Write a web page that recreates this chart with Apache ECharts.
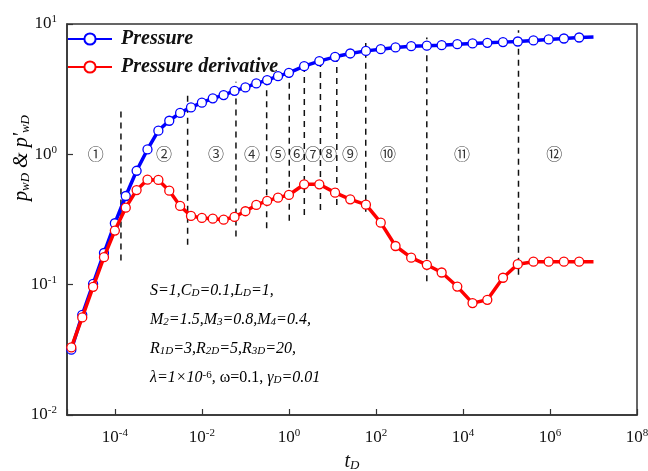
<!DOCTYPE html>
<html>
<head>
<meta charset="utf-8">
<script src="https://cdn.jsdelivr.net/npm/echarts@6/dist/echarts.min.js"></script>
<style>
html, body { margin: 0; padding: 0; background: #fff; }
#chart { width: 648px; height: 471px; }
</style>
</head>
<body>
<div id="chart"></div>
<script>
// dimensionless time of each computed point
const tD = [1e-5, 1.78e-5, 3.16e-5, 5.62e-5, 1e-4, 1.78e-4, 3.16e-4, 5.62e-4, 1e-3, 1.78e-3,
  3.16e-3, 5.62e-3, 0.01, 0.0178, 0.0316, 0.0562, 0.1, 0.178, 0.316, 0.562, 1,
  2.24, 5.0, 11.5, 25.7, 58.9, 129, 282, 646, 1480, 3240, 7410, 16600, 36300, 83200,
  182000, 417000, 933000, 2090000, 4680000, 1e7];
const pressure = [0.0317, 0.0587, 0.1014, 0.175, 0.296, 0.479, 0.748, 1.09, 1.52, 1.81,
  2.08, 2.29, 2.49, 2.69, 2.85, 3.07, 3.26, 3.50, 3.71, 3.98, 4.22,
  4.75, 5.19, 5.60, 5.94, 6.22, 6.41, 6.61, 6.76, 6.82, 6.88, 7.00, 7.09, 7.17, 7.26,
  7.34, 7.48, 7.61, 7.74, 7.88, 7.95];
const derivative = [0.033, 0.0561, 0.0962, 0.1625, 0.26, 0.39, 0.532, 0.639, 0.636, 0.526,
  0.402, 0.337, 0.325, 0.321, 0.315, 0.331, 0.366, 0.409, 0.439, 0.465, 0.488,
  0.589, 0.589, 0.508, 0.452, 0.411, 0.299, 0.198, 0.161, 0.142, 0.124, 0.0967, 0.0722, 0.0765, 0.113,
  0.1436, 0.150, 0.150, 0.150, 0.150, 0.150];

// flow regime boundaries (dashed lines)
const dashT = [1.38e-4, 4.7e-3, 0.0607, 0.308, 1.02, 2.26, 5.3, 12.6, 58.3, 1476, 1.89e5];
const dashLow = [0.153, 0.202, 0.234, 0.271, 0.31, 0.343, 0.374, 0.409, 0.363, 0.106, 0.119];
const dashHigh = [2.32, 3.07, 3.60, 4.12, 4.50, 5.13, 5.60, 5.94, 7.16, 7.88, 8.96];

// regime numbers
const regionT = [3.66e-5, 1.34e-3, 0.021, 0.142, 0.561, 1.53, 3.58, 8.36, 25.4, 190, 9550, 1.26e6];
const regionLabels = ['①', '②', '③', '④', '⑤', '⑥', '⑦', '⑧', '⑨', '⑩', '⑪', '⑫'];

const paramLines = [
  '{i|S=1,C}{sub|D}{i|=0.1,L}{sub|D}{i|=1,}',
  '{i|M}{sub|2}{i|=1.5,M}{sub|3}{i|=0.8,M}{sub|4}{i|=0.4,}',
  '{i|R}{sub|1D}{i|=3,R}{sub|2D}{i|=5,R}{sub|3D}{i|=20,}',
  '{i|λ=1×10}{sup|-6}{i|, }{n|ω=0.1, }{i|γ}{sub|D}{i|=0.01}'
];

const serif = 'Liberation Serif';
var chart = echarts.init(document.getElementById('chart'));

function powLabel(v) {
  const e = Math.log10(v);
  const r = Math.round(e);
  if (Math.abs(e - r) > 0.01) return '';
  return '{b|10}{sup|' + r + '}';
}
const tickRich = {
  b: { fontFamily: serif, fontSize: 17, lineHeight: 20, color: '#111' },
  sup: { fontFamily: serif, fontSize: 11, lineHeight: 10, verticalAlign: 'top', color: '#111' }
};

const pointSymbol = {
  symbol: 'circle',
  symbolSize: 9
};

function curveData(vals) {
  return tD.map((t, i) => i === tD.length - 1 ? { value: [t, vals[i]], symbol: 'none' } : [t, vals[i]]);
}

const dashSeries = dashT.map((t, i) => ({
  type: 'line',
  data: [[t, dashLow[i]], [t, dashHigh[i]]],
  symbol: 'none',
  silent: true,
  z: 1,
  lineStyle: { color: '#111', width: 1.5, type: [6, 5] }
}));

const richText = {
  i: { fontFamily: serif, fontStyle: 'italic', fontSize: 16, lineHeight: 16, color: '#222' },
  n: { fontFamily: serif, fontSize: 16, lineHeight: 16, color: '#222' },
  sub: { fontFamily: serif, fontStyle: 'italic', fontSize: 11, lineHeight: 8, verticalAlign: 'bottom', color: '#222' },
  sup: { fontFamily: serif, fontSize: 11, lineHeight: 8, verticalAlign: 'top', color: '#222' }
};

const option = {
  animation: false,
  grid: {
    left: 67, right: 11, top: 24, bottom: 56,
    outerBoundsMode: 'none',
    show: true, borderColor: '#333', borderWidth: 1.5
  },
  legend: {
    data: ['Pressure', 'Pressure derivative'],
    orient: 'vertical',
    left: 67,
    top: 29,
    padding: 0,
    itemWidth: 44,
    itemHeight: 14,
    itemGap: 8,
    textStyle: { fontFamily: serif, fontStyle: 'italic', fontWeight: 'bold', fontSize: 20, color: '#111', padding: [0, 0, 0, 4] }
  },
  xAxis: {
    type: 'log',
    logBase: 100,
    min: Math.pow(10, -5.1),
    max: 1e8,
    splitNumber: 6,
    name: '{i|t}{sub|D}',
    nameLocation: 'middle',
    nameGap: 37,
    nameTextStyle: {
      rich: {
        i: { fontFamily: serif, fontStyle: 'italic', fontSize: 20, lineHeight: 20, color: '#111' },
        sub: { fontFamily: serif, fontStyle: 'italic', fontSize: 13, lineHeight: 10, verticalAlign: 'bottom', color: '#111' }
      }
    },
    axisLine: { lineStyle: { color: '#333', width: 1.5 } },
    axisTick: { inside: true, length: 6, lineStyle: { color: '#333', width: 1.2 } },
    minorTick: { show: false },
    splitLine: { show: false },
    axisLabel: { margin: 13, formatter: powLabel, rich: tickRich }
  },
  yAxis: {
    type: 'log',
    logBase: 10,
    min: 0.01,
    max: 10,
    axisLine: { show: true, lineStyle: { color: '#333', width: 1.5 } },
    axisTick: { show: true, inside: true, length: 6, lineStyle: { color: '#333', width: 1.2 } },
    splitLine: { show: false },
    axisLabel: { margin: 10, formatter: powLabel, rich: tickRich }
  },
  graphic: [
    {
      type: 'text',
      x: 22,
      y: 158,
      rotation: Math.PI / 2,
      style: {
        text: "{i|p}{sub|wD}{i| & p'}{sub|wD}",
        align: 'center',
        verticalAlign: 'middle',
        rich: {
          i: { fontFamily: serif, fontStyle: 'italic', fontSize: 20, lineHeight: 20, color: '#111' },
          sub: { fontFamily: serif, fontStyle: 'italic', fontSize: 13, lineHeight: 10, verticalAlign: 'bottom', color: '#111' }
        }
      }
    }
  ].concat(paramLines.map((txt, i) => ({
    type: 'text',
    x: 150,
    y: 283 + i * 29,
    style: { text: txt, rich: richText }
  }))),
  series: [
    {
      name: 'Pressure',
      type: 'line',
      data: curveData(pressure),
      ...pointSymbol,
      z: 3,
      itemStyle: { color: '#fff', borderColor: '#0000ff', borderWidth: 1.3 },
      lineStyle: { color: '#0000ff', width: 3.5 }
    },
    {
      name: 'Pressure derivative',
      type: 'line',
      data: curveData(derivative),
      ...pointSymbol,
      z: 4,
      itemStyle: { color: '#fff', borderColor: '#ff0000', borderWidth: 1.3 },
      lineStyle: { color: '#ff0000', width: 3.5 }
    },
    {
      type: 'scatter',
      silent: true,
      symbolSize: 1,
      itemStyle: { color: 'rgba(0,0,0,0)' },
      data: regionT.map((t, i) => ({ value: [t, 1], name: regionLabels[i] })),
      label: {
        show: true,
        position: 'inside',
        formatter: '{b}',
        fontFamily: 'Noto Sans CJK SC',
        fontSize: 16,
        color: '#000'
      }
    }
  ].concat(dashSeries)
};

chart.setOption(option);
</script>
</body>
</html>
